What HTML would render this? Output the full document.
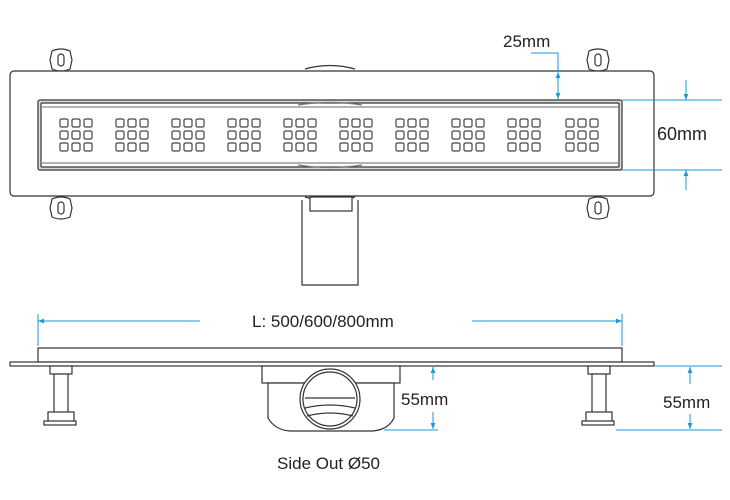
<!DOCTYPE html>
<html><head><meta charset="utf-8"><style>
html,body{margin:0;padding:0;background:#fff}
svg{display:block}
text{font-family:"Liberation Sans",sans-serif;fill:#222}
</style></head><body>
<svg width="730" height="500" viewBox="0 0 730 500" xmlns="http://www.w3.org/2000/svg">
<defs>
<marker id="a" viewBox="0 0 10 10" refX="10" refY="5" markerWidth="6" markerHeight="6" orient="auto-start-reverse"><path d="M0,1 L10,5 L0,9z" fill="#1a9ad6"/></marker>
<g id="br" fill="#fff" stroke="#333" stroke-width="1.2"><path d="M-9,-9 Q0,-13 9,-9 L11,0 L9,9 Q0,13 -9,9 L-11,0z"/><rect x="-3" y="-6" width="6" height="12" rx="3"/></g>
<g id="gr" fill="#fff" stroke="#444" stroke-width="1.2">
<rect x="0" y="0" width="8" height="8" rx="1.5"/><rect x="12" y="0" width="8" height="8" rx="1.5"/><rect x="24" y="0" width="8" height="8" rx="1.5"/>
<rect x="0" y="12" width="8" height="8" rx="1.5"/><rect x="12" y="12" width="8" height="8" rx="1.5"/><rect x="24" y="12" width="8" height="8" rx="1.5"/>
<rect x="0" y="24" width="8" height="8" rx="1.5"/><rect x="12" y="24" width="8" height="8" rx="1.5"/><rect x="24" y="24" width="8" height="8" rx="1.5"/>
</g>
</defs>
<g stroke="#333" fill="none" stroke-width="1.2">
<path d="M305,69 Q330,62 355,69" />
<use href="#br" x="61" y="60"/><use href="#br" x="598" y="60"/>
<use href="#br" x="61" y="208"/><use href="#br" x="598" y="208"/>
<rect x="10" y="71" width="644" height="125" rx="4" fill="#fff"/>
<rect x="38" y="100" width="584" height="70" rx="2" fill="#ddd"/>
<rect x="41" y="103" width="578" height="64" rx="1" fill="#fff"/>
<line x1="42" y1="107" x2="618" y2="107" stroke="#888"/>
<line x1="42" y1="163" x2="618" y2="163" stroke="#888"/>
<path d="M298,105 Q330,100 362,105" stroke="#777"/>
<path d="M298,165 Q330,170 362,165" stroke="#777"/>
<path d="M305,197 Q330,204 355,197"/>
<rect x="310" y="197" width="42" height="14" fill="#fff"/>
<path d="M302,200 L302,285 L358,285 L358,200"/>
</g>
<g>
<use href="#gr" x="60" y="119"/><use href="#gr" x="116" y="119"/><use href="#gr" x="172" y="119"/><use href="#gr" x="228" y="119"/><use href="#gr" x="284" y="119"/>
<use href="#gr" x="340" y="119"/><use href="#gr" x="396" y="119"/><use href="#gr" x="452" y="119"/><use href="#gr" x="508" y="119"/><use href="#gr" x="566" y="119"/>
</g>
<g stroke="#333" fill="#fff" stroke-width="1.2">
<rect x="38" y="348" width="584" height="14"/>
<rect x="10" y="362" width="644" height="4"/>
<rect x="50" y="366" width="22" height="8"/><rect x="54" y="374" width="14" height="40"/>
<rect x="48" y="412" width="26" height="10"/><rect x="44" y="421" width="32" height="4"/>
<rect x="588" y="366" width="22" height="8"/><rect x="592" y="374" width="14" height="40"/>
<rect x="586" y="412" width="26" height="10"/><rect x="582" y="421" width="32" height="4"/>
<rect x="262" y="366" width="138" height="17"/>
<path d="M268,383 L268,418 Q275,430 290,431 L372,431 Q388,430 394,418 L394,383z"/>
<circle cx="330" cy="399" r="30"/>
<circle cx="330" cy="399" r="27"/>
<line x1="305" y1="398" x2="355" y2="398"/>
<path d="M305,408 Q330,402 355,408" fill="none"/>
<path d="M307,416 Q330,410 353,416" fill="none"/>
</g>
<g stroke="#1a9ad6" stroke-width="1" fill="none">
<polyline points="531,53 558,53 558,72"/>
<line x1="558" y1="85" x2="558" y2="72" marker-end="url(#a)"/>
<line x1="558" y1="85" x2="558" y2="99" marker-end="url(#a)"/>
<line x1="622" y1="100" x2="722" y2="100"/><line x1="622" y1="170" x2="722" y2="170"/>
<line x1="686" y1="80" x2="686" y2="100" marker-end="url(#a)"/>
<line x1="686" y1="190" x2="686" y2="170" marker-end="url(#a)"/>
<line x1="38" y1="314" x2="38" y2="346"/><line x1="622" y1="314" x2="622" y2="346"/>
<line x1="38" y1="321" x2="200" y2="321" marker-start="url(#a)"/>
<line x1="472" y1="321" x2="622" y2="321" marker-end="url(#a)"/>
<line x1="433" y1="380" x2="433" y2="367" marker-end="url(#a)"/>
<line x1="433" y1="412" x2="433" y2="429" marker-end="url(#a)"/>
<line x1="384" y1="430" x2="438" y2="430"/>
<line x1="654" y1="366" x2="722" y2="366"/><line x1="616" y1="430" x2="722" y2="430"/>
<line x1="690" y1="384" x2="690" y2="367" marker-end="url(#a)"/>
<line x1="690" y1="414" x2="690" y2="429" marker-end="url(#a)"/>
</g>
<text x="503" y="47" font-size="17">25mm</text>
<text x="657" y="140" font-size="18">60mm</text>
<text x="252" y="327" font-size="17">L: 500/600/800mm</text>
<text x="401" y="405" font-size="17">55mm</text>
<text x="663" y="408" font-size="17">55mm</text>
<text x="277" y="469" font-size="17">Side Out Ø50</text>
</svg>
</body></html>
